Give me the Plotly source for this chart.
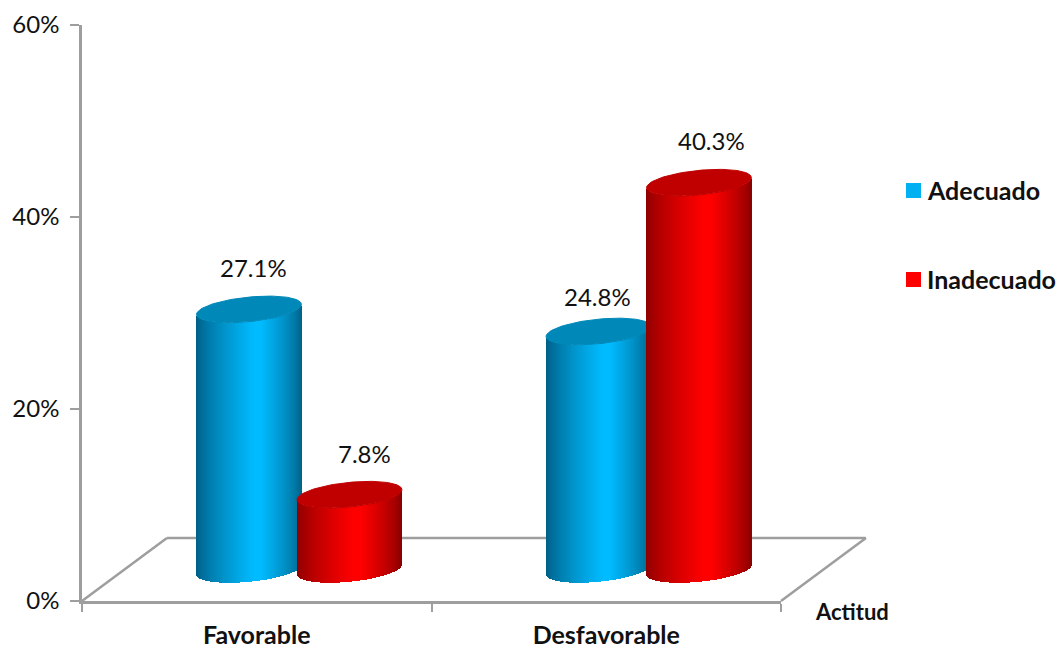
import numpy as np
import plotly.graph_objects as go

# Chart data
categories = ["Favorable", "Desfavorable"]
series_names = ["Adecuado", "Inadecuado"]
adecuado = [27.1, 24.8]
inadecuado = [7.8, 40.3]
y_ticks = [0, 20, 40, 60]

# Fake-3D geometry, in axis units (x: one unit per category, y: percent)
DEPTH_X = 0.243
DEPTH_Y = 6.56
PITCH = 0.2876
RADIUS = 0.150
ELLIPSE_B = 1.28
ELLIPSE_TILT = 0.52
N_SLICES = 105

GREY = "#9E9E9E"
TEXT = "#111111"
FONT = "Lato"

# Plot-area box in pixels, used to place the key outside the axes
PLOT_L, PLOT_W, PLOT_B, PLOT_H = 82, 699, 601, 576


def paper_x(px):
    return (px - PLOT_L) / PLOT_W


def paper_y(px):
    return (PLOT_B - px) / PLOT_H


styles = {
    "Adecuado": dict(edge=(0, 92, 130), peak=(0, 187, 255), edge_r=(0, 98, 136),
                     cap="#0088B8", swatch="#00B0F0"),
    "Inadecuado": dict(edge=(140, 0, 0), peak=(255, 0, 0), edge_r=(135, 0, 0),
                       cap="#C00000", swatch="#FF0000"),
}


def shade(style, u):
    """Horizontal cylinder shading for u in [-1, 1]."""
    peak_at = 0.18
    if u < peak_at:
        t = (u + 1) / (peak_at + 1)
        start = style["edge"]
    else:
        t = (1 - u) / (1 - peak_at)
        start = style["edge_r"]
    t = min(1.0, t ** 0.75 * 1.05)
    rgb = [round(a + (b - a) * t) for a, b in zip(start, style["peak"])]
    return f"rgb({rgb[0]},{rgb[1]},{rgb[2]})"


def cylinder(value, cx, style, xaxis, yaxis):
    """Side as narrow shaded bars, cap as a filled tilted ellipse."""
    base_y = DEPTH_Y / 2
    edges = np.linspace(-1, 1, N_SLICES + 1)
    u = (edges[:-1] + edges[1:]) / 2
    lower = base_y + ELLIPSE_TILT * u - ELLIPSE_B * np.sqrt(1 - u ** 2)
    side = go.Bar(
        x=cx + RADIUS * u,
        y=[value] * N_SLICES,
        base=lower,
        width=2 * RADIUS / N_SLICES,
        marker=dict(color=[shade(style, v) for v in u], line=dict(width=0)),
        xaxis=xaxis, yaxis=yaxis, showlegend=False, hoverinfo="skip",
    )
    t = np.linspace(0, 2 * np.pi, 121)
    cap = go.Scatter(
        x=cx + RADIUS * np.cos(t),
        y=base_y + value + ELLIPSE_TILT * np.cos(t) + ELLIPSE_B * np.sin(t),
        mode="lines", fill="toself", fillcolor=style["cap"],
        line=dict(color=style["cap"], width=1),
        xaxis=xaxis, yaxis=yaxis, showlegend=False, hoverinfo="skip",
    )
    return [side, cap]


fig = go.Figure()

# Each series has its own overlaid subplot so the red cylinders sit above the blue caps
for s, (name, values, ax) in enumerate(
    [(series_names[0], adecuado, ("x", "y")), (series_names[1], inadecuado, ("x2", "y2"))]
):
    for i, v in enumerate(values):
        cx = i + 0.5 + DEPTH_X / 2 + (s - 0.5) * PITCH
        fig.add_traces(cylinder(v, cx, styles[name], ax[0], ax[1]))

# Value labels above each cylinder: (series, category, value, x nudge px, gap px)
label_rows = [
    (0, 0, adecuado[0], 5, 42),
    (1, 0, inadecuado[0], 15, 41),
    (0, 1, adecuado[1], -1, 35),
    (1, 1, inadecuado[1], 13, 42),
]
annotations = []
for s, i, v, nudge, gap in label_rows:
    annotations.append(dict(
        x=i + 0.5 + DEPTH_X / 2 + (s - 0.5) * PITCH, y=DEPTH_Y / 2 + v,
        xref="x", yref="y", text=f"{v:.1f}%", showarrow=False,
        xshift=nudge, yshift=gap, font=dict(family=FONT, size=24, color=TEXT),
    ))
annotations.append(dict(
    x=paper_x(851.5), y=paper_y(611.5), xref="paper", yref="paper",
    xanchor="center", yanchor="middle",
    text="<b>Actitud</b>", showarrow=False, font=dict(family=FONT, size=22, color=TEXT),
))

# Floor of the chart, behind the cylinders
dx_p, dy_p = DEPTH_X / 2, DEPTH_Y / 60
floor_x = [0, dx_p, 1 + dx_p, 1]
floor_y = [0, dy_p, dy_p, 0]
shapes = [
    dict(type="line", xref="paper", yref="paper", layer="below",
         x0=floor_x[k], y0=floor_y[k], x1=floor_x[k + 1], y1=floor_y[k + 1],
         line=dict(color=GREY, width=2.5))
    for k in range(3)
]

# Key at the right: a square swatch and a bold name for each series
for name, swatch_top, text_mid in zip(series_names, [183, 272], [190.5, 278.5]):
    shapes.append(dict(
        type="rect", xref="paper", yref="paper",
        x0=paper_x(906), x1=paper_x(921), y0=paper_y(swatch_top), y1=paper_y(swatch_top + 15),
        fillcolor=styles[name]["swatch"], line=dict(width=0),
    ))
    annotations.append(dict(
        x=paper_x(924.5), y=paper_y(text_mid), xref="paper", yref="paper",
        xanchor="left", yanchor="middle", text=f"<b>{name}</b>", showarrow=False,
        font=dict(family=FONT, size=25, color=TEXT),
    ))

fig.update_layout(
    width=1059, height=648,
    margin=dict(l=PLOT_L, r=1059 - PLOT_L - PLOT_W, t=PLOT_B - PLOT_H, b=648 - PLOT_B, autoexpand=False),
    paper_bgcolor="white", plot_bgcolor="white",
    barmode="overlay", bargap=0,
    showlegend=False,
    shapes=shapes, annotations=annotations,
    font=dict(family=FONT, color=TEXT),
    xaxis=dict(
        range=[0, 2], showgrid=False, zeroline=False, showline=True, automargin=False,
        linecolor=GREY, linewidth=2.5,
        tickvals=[0.5, 1.5], ticktext=categories, ticks="",
        tickfont=dict(family=FONT, size=25, color=TEXT, weight="bold"),
        ticklabelstandoff=10,
        minor=dict(tickvals=[0, 1, 2], ticks="outside", ticklen=8, tickcolor=GREY, tickwidth=2),
    ),
    yaxis=dict(
        range=[0, 60], showgrid=False, zeroline=False, showline=True, automargin=False,
        linecolor=GREY, linewidth=2.5,
        tickvals=y_ticks, ticktext=[f"{t}%" for t in y_ticks], ticks="outside",
        ticklen=9, tickcolor=GREY, tickwidth=2,
        tickfont=dict(family=FONT, size=24, color=TEXT), ticklabelstandoff=6,
    ),
    xaxis2=dict(range=[0, 2], overlaying="x", visible=False),
    yaxis2=dict(range=[0, 60], overlaying="y", visible=False),
)

fig.write_html("out.html", config=dict(displayModeBar=False))
